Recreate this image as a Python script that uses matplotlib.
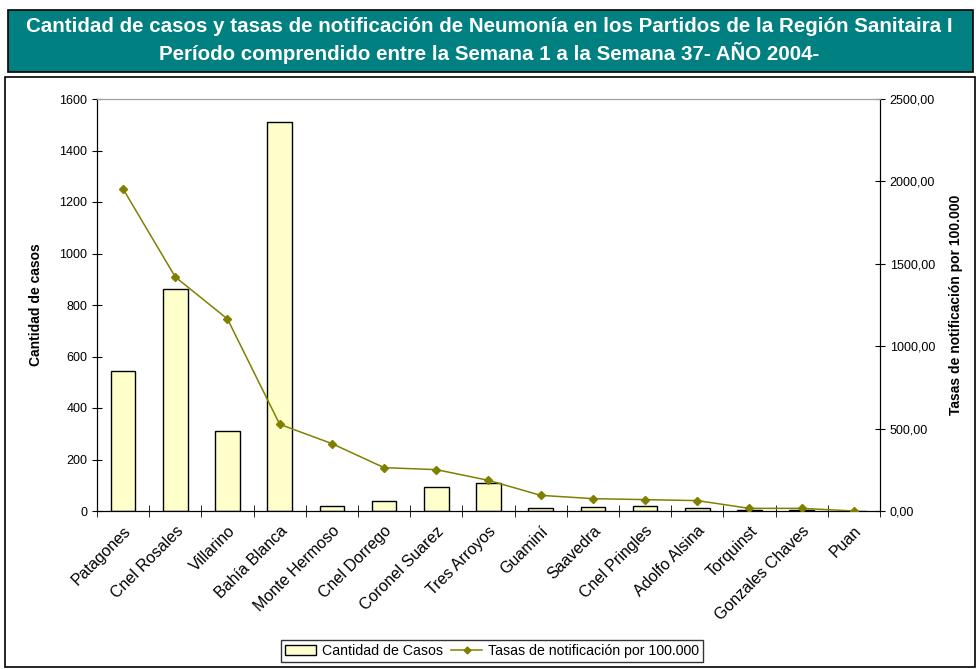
import numpy as np
import matplotlib
matplotlib.use('agg')
import matplotlib.pyplot as plt
from matplotlib.patches import Rectangle
from matplotlib.lines import Line2D

plt.rcParams['font.family'] = ['Liberation Sans', 'DejaVu Sans']

partidos = ['Patagones', 'Cnel Rosales', 'Villarino', 'Bahía Blanca', 'Monte Hermoso',
            'Cnel Dorrego', 'Coronel Suarez', 'Tres Arroyos', 'Guaminí', 'Saavedra',
            'Cnel Pringles', 'Adolfo Alsina', 'Torquinst', 'Gonzales Chaves', 'Puan']
casos = [545, 864, 309, 1509, 21, 40, 92, 107, 10, 14, 18, 10, 3, 3, 0]
tasas = [1954, 1420, 1165, 526, 409, 263, 251, 186, 95, 75, 69, 63, 16, 16, 0]

fig = plt.figure(figsize=(9.79, 6.69), dpi=100)

# title box
fig.patches.append(Rectangle((8/979, 1-72/669), 965/979, 62/669, transform=fig.transFigure,
                             facecolor='#008080', edgecolor='black', lw=1.2, zorder=0))
fig.text(0.5, 1-27/669, 'Cantidad de casos y tasas de notificación de Neumonía en los Partidos de la Región Sanitaira I',
         color='white', fontsize=14.8, fontweight='bold', ha='center', va='center')
fig.text(0.5, 1-53/669, 'Período comprendido entre la Semana 1 a la Semana 37- AÑO 2004-',
         color='white', fontsize=14.8, fontweight='bold', ha='center', va='center')
# chart box
fig.patches.append(Rectangle((5/979, 2/669), 970/979, 674/669 - 76/669 - 8/669, transform=fig.transFigure,
                             facecolor='none', edgecolor='black', lw=1.2, zorder=0))

ax = fig.add_axes([97/979, 1-511/669, 783/979, 412/669])
x = np.arange(len(partidos))
ax.bar(x, casos, width=0.47, color='#FFFFCC', edgecolor='black', linewidth=1, zorder=2)
ax.set_xlim(-0.5, len(partidos) - 0.5)
ax.set_ylim(0, 1600)
ax.set_yticks(np.arange(0, 1601, 200))
ax.set_xticks(x)
ax.set_xticklabels(partidos, rotation=45, ha='right', rotation_mode='anchor', fontsize=11.5)
ax.set_xticks(np.arange(-0.5, len(partidos), 1), minor=True)
ax.tick_params(axis='x', which='major', length=0, pad=9)
ax.tick_params(axis='x', which='minor', direction='inout', length=8)
ax.tick_params(axis='y', direction='inout', length=7, labelsize=9)
ax.set_ylabel('Cantidad de casos', fontsize=10, fontweight='bold', labelpad=12)
ax.spines['top'].set_color('#a0a0a0')

ax2 = ax.twinx()
ax2.plot(x, tasas, color='#808000', marker='D', markersize=4.5, lw=1.1, zorder=3)
ax2.set_ylim(0, 2500)
ax2.set_yticks(np.arange(0, 2501, 500))
ax2.set_yticklabels([f'{v},00' for v in range(0, 2501, 500)])
ax2.tick_params(axis='y', direction='inout', length=7, labelsize=9)
ax2.set_ylabel('Tasas de notificación por 100.000', fontsize=10, fontweight='bold', labelpad=10)
ax2.spines['top'].set_color('#a0a0a0')

handles = [Rectangle((0, 0), 1, 1, facecolor='#FFFFCC', edgecolor='black'),
           Line2D([], [], color='#808000', marker='D', markersize=3.5, lw=1.1)]
fig.legend(handles, ['Cantidad de Casos', 'Tasas de notificación por 100.000'],
           loc='center', bbox_to_anchor=(492/979, 1-651/669), ncol=2, fontsize=10.2,
           frameon=True, fancybox=False, edgecolor='black', handlelength=2.2,
           columnspacing=0.6, handletextpad=0.4, borderpad=0.3)

fig.savefig('out.png', dpi=100)
